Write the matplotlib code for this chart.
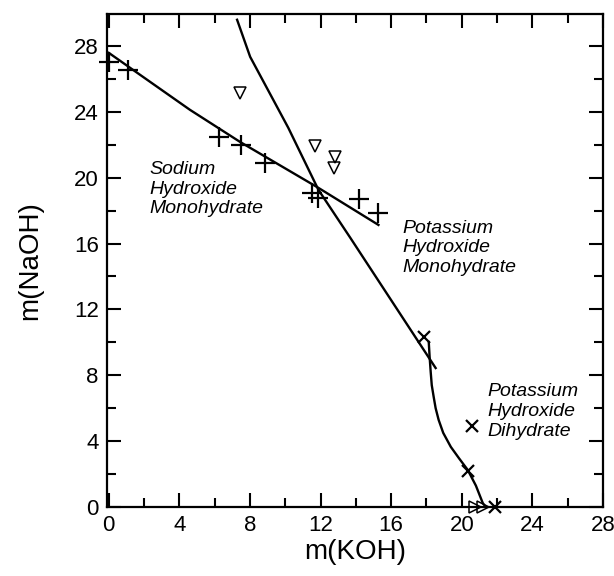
import matplotlib
matplotlib.use("Agg")
import matplotlib.pyplot as plt
from matplotlib.ticker import MultipleLocator

plt.rcParams["font.family"] = ["Liberation Sans", "DejaVu Sans"]

# ── data ────────────────────────────────────────────────────────────────────

# NaOH.H2O solubility points (+)
NAOH_HYD_KOH = [0.0, 1.1, 6.25, 7.5, 8.86, 11.53, 11.88, 14.15, 15.23]
NAOH_HYD_NAOH = [27.0, 26.55, 22.48, 22.0, 20.9, 19.08, 18.77, 18.71, 17.86]

# KOH.H2O points (open down triangles)
KOH_HYD_KOH = [7.44, 11.7, 12.84, 12.78]
KOH_HYD_NAOH = [25.15, 21.93, 21.26, 20.59]

# points on the KOH axis (open right triangles)
AXIS_TRI_KOH = [20.74, 21.19]
AXIS_TRI_NAOH = [0.0, 0.0]

# KOH.2H2O points (x)
KOH_DIHYD_KOH = [17.84, 20.57, 20.34, 21.88]
KOH_DIHYD_NAOH = [10.33, 4.92, 2.19, 0.0]

# boundary curves
LINE_NAOH_KOH = [0.0, 4.6, 7.44, 11.88, 15.28]
LINE_NAOH_NAOH = [27.58, 24.12, 22.17, 19.38, 17.13]

LINE_KOHM_KOH = [7.27, 8.01, 10.17, 11.88, 13.69, 18.52]
LINE_KOHM_NAOH = [29.59, 27.34, 23.03, 19.26, 16.34, 8.44]

LINE_KOHD_KOH = [18.13, 18.18, 18.24, 18.3, 18.41, 18.52, 18.69, 18.95,
                 19.38, 19.85, 20.34, 20.8, 21.19, 21.36]
LINE_KOHD_NAOH = [10.02, 9.1, 8.2, 7.4, 6.68, 6.0, 5.29, 4.5,
                  3.65, 2.95, 2.25, 1.3, 0.24, 0.0]

LABELS = [
    (2.3, 21.0, "Sodium\nHydroxide\nMonohydrate"),
    (16.65, 17.45, "Potassium\nHydroxide\nMonohydrate"),
    (21.45, 7.5, "Potassium\nHydroxide\nDihydrate"),
]

LW = 1.7


def plot_phase(out_path="out.png"):
    fig = plt.figure(figsize=(6.14, 5.76), dpi=100)
    ax = fig.add_axes([0.1743, 0.1198, 0.8077, 0.8559])

    ax.plot(LINE_NAOH_KOH, LINE_NAOH_NAOH, color="black", lw=LW)
    ax.plot(LINE_KOHM_KOH, LINE_KOHM_NAOH, color="black", lw=LW)
    ax.plot(LINE_KOHD_KOH, LINE_KOHD_NAOH, color="black", lw=LW,
            solid_joinstyle="round")

    ax.plot(NAOH_HYD_KOH, NAOH_HYD_NAOH, ls="none", marker="+",
            ms=14, mew=1.6, color="black", clip_on=False)
    ax.plot(KOH_HYD_KOH, KOH_HYD_NAOH, ls="none", marker="v",
            ms=8, mew=1.1, mfc="none", mec="black", clip_on=False)
    ax.plot(AXIS_TRI_KOH, AXIS_TRI_NAOH, ls="none", marker=">",
            ms=8, mew=1.1, mfc="none", mec="black", clip_on=False)
    ax.plot(KOH_DIHYD_KOH, KOH_DIHYD_NAOH, ls="none", marker="x",
            ms=9, mew=1.6, color="black", clip_on=False)

    # region labels
    for x, y, txt in LABELS:
        ax.text(x, y, txt, fontsize=14, style="italic", ha="left", va="top",
                linespacing=1.2)

    ax.set_xlim(-0.1, 28)
    ax.set_ylim(0, 29.94)
    ax.xaxis.set_major_locator(MultipleLocator(4))
    ax.xaxis.set_minor_locator(MultipleLocator(2))
    ax.yaxis.set_minor_locator(MultipleLocator(2))
    ax.set_yticks(range(0, 29, 4))
    ax.tick_params(which="both", direction="in", top=True, right=True,
                   width=1.5, labelsize=16, pad=6)
    ax.tick_params(which="major", length=10)
    ax.tick_params(which="minor", length=6.5)
    for sp in ax.spines.values():
        sp.set_linewidth(1.6)

    ax.set_xlabel("m(KOH)", fontsize=20, labelpad=2)
    ax.set_ylabel("m(NaOH)", fontsize=20, labelpad=22)

    fig.savefig(out_path, dpi=100)
    plt.close(fig)


def main():
    plot_phase()


if __name__ == "__main__":
    main()
